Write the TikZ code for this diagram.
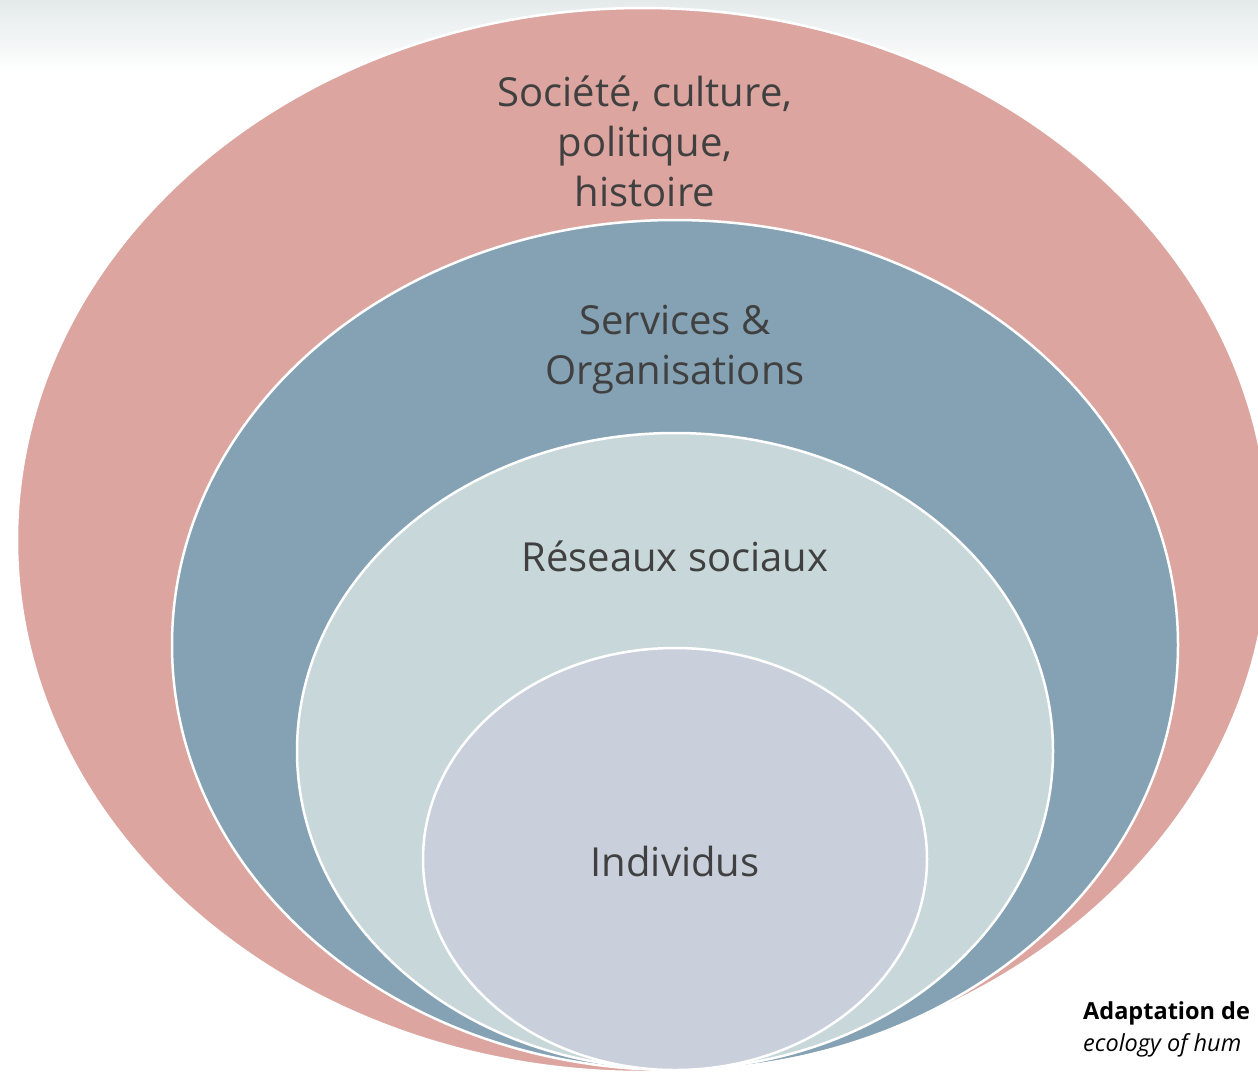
\documentclass[tikz,border=0pt]{standalone}
\usepackage{fontspec}
\setmainfont{Open Sans}
\definecolor{pinkring}{HTML}{DCA5A0}
\definecolor{bluering}{HTML}{84A2B4}
\definecolor{lightring}{HTML}{C8D7D9}
\definecolor{innerring}{HTML}{C9D0DC}
\definecolor{labeltext}{HTML}{404040}
\definecolor{bgtop}{HTML}{E4EAEA}
\tikzset{
  ring/.style={draw=white, line width=2.5pt},
  ringlabel/.style={text=labeltext, font=\fontsize{40}{50}\selectfont, align=center, inner sep=0pt},
  credit/.style={text=black, anchor=west, inner sep=0pt}
}
\begin{document}
\begin{tikzpicture}[x=1pt,y=-1pt]
\useasboundingbox (0,0) rectangle (1258,1072);
\clip (0,0) rectangle (1258,1072);
\fill[white] (0,0) rectangle (1258,1072);
\shade[top color=bgtop, bottom color=white] (0,0) rectangle (1258,72);
% rings
\draw[ring, fill=pinkring] (643,540) ellipse [x radius=626pt, y radius=532pt];
\draw[ring, fill=bluering] (675,645) ellipse [x radius=503pt, y radius=425pt];
\draw[ring, fill=lightring] (675,751) ellipse [x radius=378pt, y radius=318pt];
\draw[ring, fill=innerring] (675,859) ellipse [x radius=252pt, y radius=211pt];
% labels
\node[ringlabel] (societe) at (645,141) {Société, culture,\\politique,\\histoire};
\node[ringlabel] (services) at (675,350) {Services \&\\Organisations};
\node[ringlabel] (reseaux) at (675,556) {Réseaux sociaux};
\node[ringlabel] (individus) at (675,861) {Individus};
% credit
\node[credit, font=\fontsize{23.5}{30}\selectfont\bfseries] (adapt) at (1083,1013) {Adaptation de};
\node[credit, font=\fontsize{23.5}{30}\selectfont\itshape] (ecology) at (1083,1045) {ecology of hum};
\end{tikzpicture}
\end{document}
